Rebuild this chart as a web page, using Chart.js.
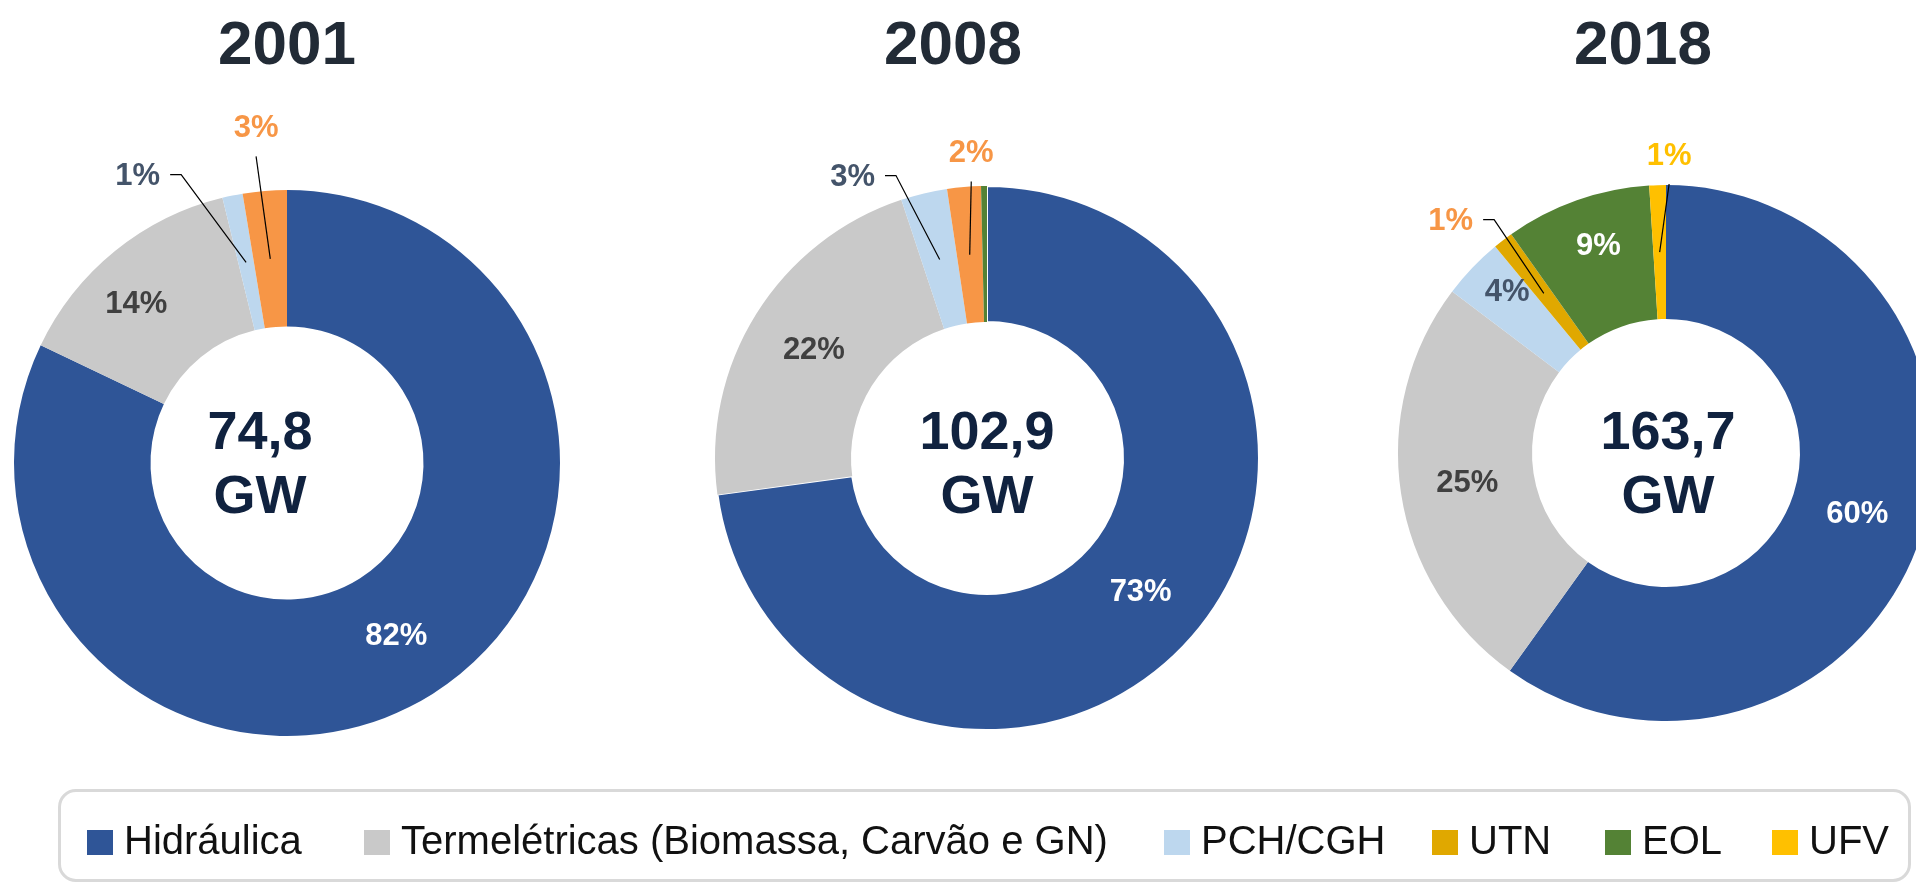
<!DOCTYPE html>
<html lang="pt">
<head>
<meta charset="utf-8">
<title>Capacidade instalada</title>
<script src="https://cdn.jsdelivr.net/npm/chart.js@4.4.0/dist/chart.umd.min.js"></script>
<style>
  html, body { margin: 0; padding: 0; width: 1916px; height: 885px; overflow: hidden; background: #fff;
    font-family: "Liberation Sans", Arial, sans-serif; }
  canvas { position: absolute; }
  .year { position: absolute; width: 300px; text-align: center; font-weight: bold; font-size: 62px;
    line-height: 62px; color: #222b36; }
  .total { position: absolute; width: 300px; text-align: center; font-weight: bold; font-size: 54px;
    line-height: 64px; color: #10223f; }
  #legendBox { position: absolute; left: 58px; top: 789px; width: 1853px; height: 93px; box-sizing: border-box;
    border: 3px solid #d9d9d9; border-radius: 18px; }
  .item { position: absolute; top: 820px; font-size: 40px; line-height: 40px; color: #111; white-space: nowrap; }
  .swatch { position: absolute; top: 830px; width: 26px; height: 25px; }
</style>
</head>
<body>
<canvas id="c2001" width="720" height="760"></canvas>
<canvas id="c2008" width="720" height="760"></canvas>
<canvas id="c2018" width="720" height="760"></canvas>
<div id="legendBox"></div>
<script>
// data
const categories = ['Hidráulica', 'Termelétricas (Biomassa, Carvão e GN)', 'PCH/CGH', 'UTN', 'EOL', 'UFV'];
const years = ['2001', '2008', '2018'];
const totals = ['74,8', '102,9', '163,7'];
const share2001 = [82.1, 14.1, 1.2, 2.6, 0, 0];
const share2008 = [72.85, 22.05, 2.75, 2.0, 0.35, 0];
const share2018 = [59.9, 25.4, 3.7, 1.2, 8.8, 1.0];

// colours
const legendColors = ['#2f5597', '#c9c9c9', '#bdd7ee', '#e0a800', '#548235', '#ffc000'];
const oldColors = ['#2f5597', '#c9c9c9', '#bdd7ee', '#f79646', '#548235', '#ffc000'];
const labelColors = ['#ffffff', '#404040', '#44546a', '#f79646', '#ffffff', '#ffc000'];

// layout of each donut
const layouts = [
  { id: 'c2001', cx: 287, cy: 463, r: 273, titleX: 287, totalX: 260, data: share2001, colors: oldColors,
    border: [0, 0, 0, 0, 0, 0],
    place: { 1: { shift: -4.4, dist: 219 }, 2: { shift: -16, dist: 323, callout: 'elbow' }, 3: { shift: -0.6, dist: 336, callout: 'up' } } },
  { id: 'c2008', cx: 987, cy: 458, r: 272, titleX: 953, totalX: 987, data: share2008, colors: oldColors,
    border: [2, 0, 0, 0, 0, 0],
    place: { 2: { shift: -12.2, dist: 311, callout: 'elbow' }, 3: { shift: 1.9, dist: 305, callout: 'up' } } },
  { id: 'c2018', cx: 1666, cy: 453, r: 268, titleX: 1643, totalX: 1668, data: share2018, colors: legendColors,
    border: [0, 0, 0, 0, 0, 0],
    place: { 2: { shift: 1.6, dist: 226 }, 3: { shift: -5.5, dist: 316, callout: 'elbow' }, 4: { shift: 1.3, dist: 217 }, 5: { shift: 2.4, dist: 297, callout: 'up' } } }
];

const sliceLabels = {
  id: 'sliceLabels',
  afterDatasetsDraw(chart, args, opts) {
    const ctx = chart.ctx;
    const values = chart.data.datasets[0].data;
    const total = values.reduce((a, b) => a + b, 0);
    const meta = chart.getDatasetMeta(0);
    ctx.save();
    ctx.font = 'bold 31px "Liberation Sans", Arial, sans-serif';
    ctx.textAlign = 'center';
    ctx.textBaseline = 'middle';
    meta.data.forEach((arc, i) => {
      const pct = values[i] / total * 100;
      if (pct < 0.5) return;
      const p = arc.getProps(['x', 'y', 'startAngle', 'endAngle', 'innerRadius', 'outerRadius'], true);
      const mid = (p.startAngle + p.endAngle) / 2;
      const ringR = (p.innerRadius + p.outerRadius) / 2;
      const place = (opts.place || {})[i] || {};
      const a = mid + (place.shift || 0) * Math.PI / 180;
      const r = place.dist || ringR;
      const lx = p.x + Math.cos(a) * r;
      const ly = p.y + Math.sin(a) * r;
      const text = Math.round(pct) + '%';
      if (place.callout) {
        const ex = p.x + Math.cos(mid) * ringR;
        const ey = p.y + Math.sin(mid) * ringR;
        ctx.beginPath();
        ctx.strokeStyle = '#000';
        ctx.lineWidth = 1.2;
        if (place.callout === 'elbow') {
          const sx = lx + ctx.measureText(text).width / 2 + 10;
          ctx.moveTo(sx, ly - 2);
          ctx.lineTo(sx + 11, ly - 2);
        } else {
          ctx.moveTo(lx, ly + 28);
        }
        ctx.lineTo(ex, ey);
        ctx.stroke();
      }
      ctx.fillStyle = labelColors[i];
      ctx.fillText(text, lx, ly);
    });
    ctx.restore();
  }
};

layouts.forEach((l, k) => {
  const canvas = document.getElementById(l.id);
  canvas.style.left = (l.cx - canvas.width / 2) + 'px';
  canvas.style.top = (l.cy - canvas.height / 2) + 'px';

  new Chart(canvas, {
    type: 'doughnut',
    data: {
      labels: categories,
      datasets: [{
        data: l.data,
        backgroundColor: l.colors,
        borderColor: '#ffffff',
        borderWidth: l.border,
        radius: l.r,
        cutout: '50%'
      }]
    },
    options: {
      responsive: false,
      animation: false,
      plugins: {
        legend: { display: false },
        tooltip: { enabled: false },
        sliceLabels: { place: l.place }
      }
    },
    plugins: [sliceLabels]
  });

  const title = document.createElement('div');
  title.className = 'year';
  title.textContent = years[k];
  title.style.left = (l.titleX - 150) + 'px';
  title.style.top = '12px';
  document.body.appendChild(title);

  const tot = document.createElement('div');
  tot.className = 'total';
  tot.innerHTML = totals[k] + '<br>GW';
  tot.style.left = (l.totalX - 150) + 'px';
  tot.style.top = '398px';
  document.body.appendChild(tot);
});

// legend
const legendX = [87, 364, 1164, 1432, 1605, 1772];
categories.forEach((name, i) => {
  const sw = document.createElement('div');
  sw.className = 'swatch';
  sw.style.left = legendX[i] + 'px';
  sw.style.background = legendColors[i];
  document.body.appendChild(sw);
  const t = document.createElement('div');
  t.className = 'item';
  t.style.left = (legendX[i] + 37) + 'px';
  t.textContent = name;
  document.body.appendChild(t);
});
</script>
</body>
</html>
